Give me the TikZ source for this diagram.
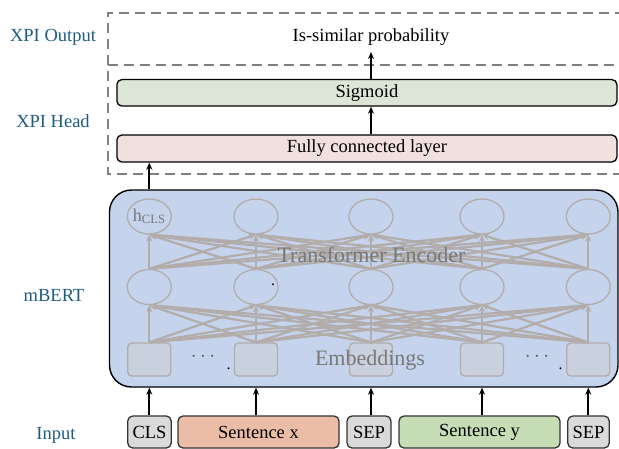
\documentclass[tikz,border=0pt]{standalone}
\usepackage{fontspec}
\setmainfont{Liberation Serif}
\usetikzlibrary{arrows.meta,shapes.geometric}
\definecolor{labc}{RGB}{30,92,130}
\definecolor{bertfill}{RGB}{197,212,236}
\definecolor{sqfill}{RGB}{201,208,222}
\definecolor{encgray}{RGB}{178,172,170}
\definecolor{txtgray}{RGB}{120,120,120}
\definecolor{dashgray}{RGB}{128,128,128}
\definecolor{sigfill}{RGB}{220,229,214}
\definecolor{fcfill}{RGB}{242,223,223}
\definecolor{tokfill}{RGB}{218,218,218}
\definecolor{sxfill}{RGB}{236,189,166}
\definecolor{syfill}{RGB}{198,221,182}
\tikzset{
  lbl/.style={text=labc, font=\fontsize{18.5}{21}\selectfont},
  txt/.style={font=\fontsize{18.5}{21}\selectfont, inner sep=0pt},
  dashbox/.style={draw=dashgray, line width=2pt, dash pattern=on 10pt off 6pt},
  layerbox/.style={draw=black, line width=1.3pt, rounded corners=5pt, minimum width=500pt, inner sep=0pt, font=\fontsize{18.5}{21}\selectfont},
  tokbox/.style={draw=black!80, line width=1.3pt, rounded corners=5pt, minimum height=32pt, inner sep=0pt, font=\fontsize{18.5}{21}\selectfont},
  arr/.style={-{Stealth[length=7pt,width=6pt]}, line width=2.2pt, black},
  enc/.style={-{Stealth[length=7pt,width=6pt]}, line width=2.2pt, encgray},
  neuron/.style={ellipse, draw=encgray, line width=1.3pt, minimum width=44pt, minimum height=35pt, inner sep=0pt},
  emb/.style={draw=encgray, fill=sqfill, line width=1.3pt, rounded corners=4pt, minimum width=43pt, minimum height=33pt, inner sep=0pt},
  graytxt/.style={text=txtgray, font=\fontsize{22}{24}\selectfont, inner sep=0pt},
  dotstxt/.style={text=black!65, font=\fontsize{22}{24}\selectfont, inner sep=0pt},
  stray/.style={font=\fontsize{16}{18}\selectfont, inner sep=0pt}
}
\begin{document}
\begin{tikzpicture}[x=1pt,y=-1pt]
\useasboundingbox (0,0) rectangle (619,448);
% side labels
\node[lbl] (lout) at (53,37) {XPI Output};
\node[lbl] (lhead) at (53,121) {XPI Head};
\node[lbl] (lbert) at (54,295) {mBERT};
\node[lbl] (lin) at (56,435) {Input};
% dashed regions
\draw[dashbox] (625,12.7) -- (107.5,12.7) -- (107.5,174) -- (625,174);
\draw[dashbox] (107.5,64.5) -- (625,64.5);
% head
\node[txt] (out) at (371,37) {Is-similar probability};
\coordinate (outin) at (371,52);
\node[layerbox, fill=sigfill, minimum height=26.5pt] (sig) at (366.9,92.8) {Sigmoid};
\node[layerbox, fill=fcfill, minimum height=27pt] (fc) at (366.9,148.5) {Fully connected layer};
\draw[arr] (sig.north -| outin) -- (outin);
\draw[arr] (fc.north -| outin) -- (sig.south -| outin);
% mBERT box
\node[draw=black, line width=1.4pt, fill=bertfill, rounded corners=22pt, minimum width=508.5pt, minimum height=197pt, inner sep=0pt] (bert) at (363.75,288.5) {};
% neurons
\foreach \i/\x in {1/149.3,2/256,3/371,4/482,5/588.3}{
  \node[neuron] (t\i) at (\x,216.5) {};
  \node[neuron] (m\i) at (\x,287) {};
  \node[emb] (e\i) at (\x,359.5) {};
}
\foreach \i in {1,...,5}{
  \foreach \j in {1,...,5}{
    \draw[enc] (e\i.north) -- (m\j.south);
    \draw[enc] (m\i.north) -- (t\j.south);
  }
}
\node[text=txtgray, font=\fontsize{18}{20}\selectfont, inner sep=0pt] (hcls) at (t1.center) {h\textsubscript{CLS}};
\node[graytxt] (tenc) at (371.5,255) {Transformer Encoder};
\node[graytxt] (temb) at (370,360) {Embeddings};
\node[dotstxt] (dots1) at (203,357) {$\cdots$};
\node[dotstxt] (dots2) at (537,357) {$\cdots$};
\node[stray] (p1) at (228.5,369) {.};
\node[stray] (p2) at (273,284.5) {.};
\node[stray] (p3) at (560.5,369) {.};
% mBERT -> FC
\draw[arr] (t1 |- bert.north) -- (t1 |- fc.south);
% inputs
\node[tokbox, fill=tokfill, minimum width=43.5pt] (cls) at (149.5,432) {CLS};
\node[tokbox, fill=sxfill, minimum width=161pt] (sx) at (258.5,432) {Sentence x};
\node[tokbox, fill=tokfill, minimum width=44pt] (sep1) at (369,432) {SEP};
\node[tokbox, fill=syfill, minimum width=161pt] (sy) at (479.5,432) {Sentence y};
\node[tokbox, fill=tokfill, minimum width=41.5pt] (sep2) at (588.5,432) {SEP};
\draw[arr] (e1 |- cls.north) -- (e1 |- bert.south);
\draw[arr] (e2 |- sx.north) -- (e2 |- bert.south);
\draw[arr] (e3 |- sep1.north) -- (e3 |- bert.south);
\draw[arr] (e4 |- sy.north) -- (e4 |- bert.south);
\draw[arr] (e5 |- sep2.north) -- (e5 |- bert.south);
\end{tikzpicture}
\end{document}
